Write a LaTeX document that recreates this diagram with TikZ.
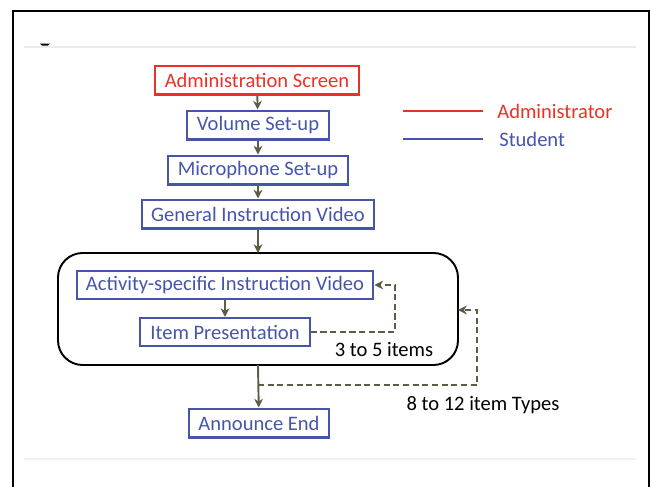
\documentclass[tikz,border=0pt]{standalone}
\usepackage{fontspec}
\setmainfont{Carlito}
\usepackage{tikz}
\usetikzlibrary{arrows,arrows.meta}
\definecolor{adminred}{RGB}{232,50,40}
\definecolor{studentblue}{RGB}{70,85,170}
\definecolor{flowolive}{RGB}{95,92,70}
\tikzstyle{adminbox}=[draw=adminred, line width=1.2pt, text=adminred, inner sep=0pt, minimum height=29\pxu, font=\fontsize{11.7}{13}\selectfont]
\tikzstyle{studentbox}=[draw=studentblue, line width=1.2pt, text=studentblue, inner sep=0pt, minimum height=29\pxu, font=\fontsize{11.7}{13}\selectfont]
\tikzstyle{flow}=[draw=flowolive, line width=1.1pt, -{Stealth[length=5pt,width=5pt]}]
\tikzstyle{loopback}=[draw=flowolive, line width=1.1pt, dash pattern=on 3.5pt off 2pt, -{Stealth[length=5pt,width=5pt]}]
\tikzstyle{note}=[text=black, inner sep=0pt, font=\fontsize{11.7}{13}\selectfont]
\newcommand{\pxu}{*0.567pt}
\begin{document}
\begin{tikzpicture}[x=0.02cm, y=-0.02cm]
	\useasboundingbox (0,0) rectangle (650,487);
	\draw[line width=1.6pt] (13,487) -- (13,11) -- (649,11) -- (649,487);
	\draw[black!8, line width=1pt] (24,47) -- (636,47);
	\draw[black!6, line width=0.8pt] (24,459) -- (636,459);
	\fill[black] (40,43.5) -- (50,43.5) -- (48,45.5) -- (42,45.5) -- cycle;
	\node[adminbox, minimum width=204\pxu] (admin) at (257,80) {Administration Screen};
	\node[studentbox, minimum width=142\pxu] (volume) at (258,125) {Volume Set-up};
	\node[studentbox, minimum width=180\pxu] (micro) at (258,170) {Microphone Set-up};
	\node[studentbox, minimum width=232\pxu] (general) at (258,214) {General Instruction Video};
	\draw[line width=1.1pt, rounded corners=14pt] (58,253) rectangle (458,365);
	\coordinate (blocktop) at (258,253);
	\coordinate (blockbottom) at (258,365);
	\coordinate (blockright) at (458,310);
	\node[studentbox, minimum width=298\pxu, minimum height=28\pxu] (activity) at (225,285) {Activity-specific Instruction Video};
	\node[studentbox, minimum width=170\pxu, minimum height=28\pxu] (item) at (225,332) {Item Presentation};
	\node[note] (items) at (384,350) {3 to 5 items};
	\node[studentbox, minimum width=140\pxu] (announce) at (259,423) {Announce End};
	\node[note] (types) at (483,405) {8 to 12 item Types};
	\coordinate (branch) at (258,385);
	\draw[flow] (admin) -- (volume);
	\draw[flow] (volume) -- (micro);
	\draw[flow] (micro) -- (general);
	\draw[flow] (general.south -| blocktop) -- (blocktop);
	\draw[flow] (activity) -- (item);
	\draw[flow] (blockbottom) -- (announce);
	\draw[loopback] (item.east) -- (395,332) -- (395,285) -- (activity.east);
	\draw[loopback] (branch) -- (477,385) -- (477,310) -- (blockright);
	\coordinate (redstart) at (403,111);
	\coordinate (redend) at (483,111);
	\coordinate (bluestart) at (403,139);
	\coordinate (blueend) at (483,139);
	\draw[adminred, line width=1.2pt] (redstart) -- (redend);
	\draw[studentblue, line width=1.2pt] (bluestart) -- (blueend);
	\node[note, text=adminred, anchor=west] (adminlabel) at (497,111) {Administrator};
	\node[note, text=studentblue, anchor=west] (studentlabel) at (499,139) {Student};
\end{tikzpicture}
\end{document}
